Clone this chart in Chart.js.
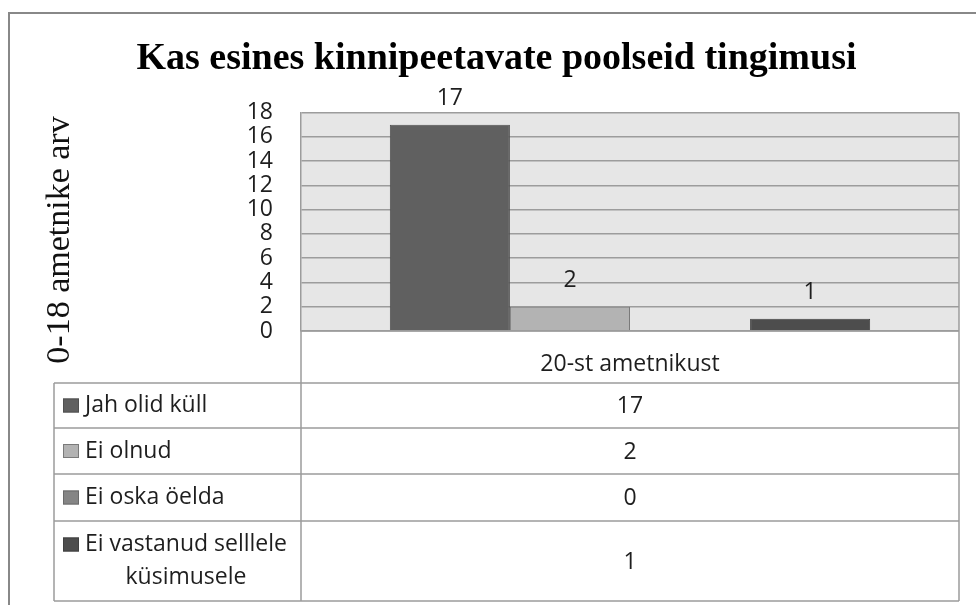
<!DOCTYPE html>
<html>
<head>
<meta charset="utf-8">
<script src="https://cdn.jsdelivr.net/npm/chart.js@4"></script>
<style>
  body { margin: 0; background: #fff; }
  canvas { display: block; }
</style>
</head>
<body>
<canvas id="myChart" width="976" height="605"></canvas>
<script>
const chartTitle = "Kas esines kinnipeetavate poolseid tingimusi";
const yTitle = "0-18 ametnike arv";
const categories = ["20-st ametnikust"];
const seriesNames = ["Jah olid küll", "Ei olnud", "Ei oska öelda", "Ei vastanud selllele küsimusele"];
const seriesValues = [17, 2, 0, 1];
const seriesColors = ["#606060", "#b3b3b3", "#858585", "#4d4d4d"];
const seriesBorders = ["#505050", "#7a7a7a", "#6a6a6a", "#404040"];
const yMin = 0;
const yMax = 18;
const yStep = 2;

const sansFont = "'Open Sans', 'DejaVu Sans', sans-serif";
const serifFont = "'Liberation Serif', 'DejaVu Serif', serif";
const lineColor = "#9c9c9c";

// outer frame + grey plot background
const backgroundPlugin = {
  id: "background",
  beforeDraw: (chart) => {
    const { ctx, chartArea } = chart;
    ctx.save();
    ctx.fillStyle = "#fff";
    ctx.fillRect(0, 0, chart.width, chart.height);
    ctx.strokeStyle = "#888";
    ctx.lineWidth = 2;
    ctx.strokeRect(9, 13, 1200, 1200);
    ctx.fillStyle = "#e6e6e6";
    ctx.fillRect(chartArea.left, chartArea.top, chartArea.right - chartArea.left, chartArea.bottom - chartArea.top);
    ctx.restore();
  },
};

// value labels above the bars
const valueLabelsPlugin = {
  id: "valueLabels",
  afterDatasetsDraw: (chart) => {
    const { ctx } = chart;
    ctx.save();
    ctx.font = `23px ${sansFont}`;
    ctx.fillStyle = "#1e1e1e";
    ctx.textAlign = "center";
    ctx.textBaseline = "middle";
    chart.data.datasets.forEach((ds, i) => {
      const value = ds.data[0];
      if (!value) return;
      const bar = chart.getDatasetMeta(i).data[0];
      ctx.fillText(String(value), bar.x, bar.y - 26);
    });
    ctx.restore();
  },
};

// rotated y axis title
const yTitlePlugin = {
  id: "yTitle",
  afterDraw: (chart) => {
    const { ctx } = chart;
    ctx.save();
    ctx.translate(60, 240);
    ctx.rotate(-Math.PI / 2);
    ctx.font = `34px ${serifFont}`;
    ctx.fillStyle = "#111";
    ctx.textAlign = "center";
    ctx.textBaseline = "middle";
    ctx.fillText(yTitle, 0, 0);
    ctx.restore();
  },
};

// data table with legend keys under the plot
const dataTablePlugin = {
  id: "dataTable",
  afterDraw: (chart) => {
    const { ctx, chartArea } = chart;
    const left = 54;
    const mid = chartArea.left;
    const right = chartArea.right;
    const headerBottom = chart.scales.x.bottom;
    const rows = [headerBottom, 428, 474, 521, 601];

    ctx.save();
    ctx.strokeStyle = lineColor;
    ctx.lineWidth = 1.5;
    ctx.beginPath();
    ctx.moveTo(mid, chartArea.bottom);
    ctx.lineTo(mid, rows[rows.length - 1]);
    ctx.moveTo(right, chartArea.top);
    ctx.lineTo(right, rows[rows.length - 1]);
    ctx.moveTo(left, rows[0]);
    ctx.lineTo(left, rows[rows.length - 1]);
    ctx.moveTo(mid, chartArea.bottom);
    ctx.lineTo(right, chartArea.bottom);
    rows.forEach((y) => {
      ctx.moveTo(left, y);
      ctx.lineTo(right, y);
    });
    ctx.stroke();

    ctx.font = `23px ${sansFont}`;
    ctx.fillStyle = "#1e1e1e";
    ctx.textBaseline = "middle";
    const textX = 85;
    const maxWidth = mid - textX - 6;
    chart.data.datasets.forEach((ds, i) => {
      const top = rows[i];
      const bottom = rows[i + 1];
      const center = (top + bottom) / 2;

      // wrap the series name
      const words = ds.label.split(" ");
      const lines = [];
      let line = "";
      words.forEach((w) => {
        const test = line ? `${line} ${w}` : w;
        if (ctx.measureText(test).width > maxWidth && line) {
          lines.push(line);
          line = w;
        } else {
          line = test;
        }
      });
      lines.push(line);

      const lineH = 33;
      const firstY = center - ((lines.length - 1) * lineH) / 2;
      const firstW = ctx.measureText(lines[0]).width;

      ctx.fillStyle = ds.backgroundColor;
      ctx.fillRect(63, firstY - 7, 16, 14);
      ctx.strokeStyle = ds.borderColor;
      ctx.lineWidth = 1;
      ctx.strokeRect(63.5, firstY - 6.5, 15, 13);

      ctx.fillStyle = "#1e1e1e";
      lines.forEach((l, k) => {
        if (k === 0) {
          ctx.textAlign = "left";
          ctx.fillText(l, textX, firstY);
        } else {
          ctx.textAlign = "center";
          ctx.fillText(l, textX + firstW / 2, firstY + k * lineH);
        }
      });

      ctx.textAlign = "center";
      ctx.fillText(String(ds.data[0]), (mid + right) / 2, center + 1);
    });
    ctx.restore();
  },
};

const datasets = seriesNames.map((name, i) => ({
  label: name,
  data: [seriesValues[i]],
  backgroundColor: seriesColors[i],
  borderColor: seriesBorders[i],
  borderWidth: 1,
  categoryPercentage: 0.73,
  barPercentage: 1,
}));

const chartConfig = {
  type: "bar",
  data: { labels: categories, datasets: datasets },
  options: {
    responsive: false,
    animation: false,
    devicePixelRatio: 1,
    layout: { padding: { left: 34, right: 17, top: 0, bottom: 222 } },
    plugins: {
      legend: { display: false },
      tooltip: { enabled: false },
      title: {
        display: true,
        text: chartTitle,
        color: "#000",
        font: { family: serifFont, size: 38, weight: "bold" },
        padding: { top: 36, bottom: 31 },
      },
    },
    scales: {
      x: {
        grid: { display: false },
        border: { display: false },
        ticks: { font: { family: sansFont, size: 23 }, color: "#1e1e1e", padding: 12 },
        afterFit: (scale) => {
          scale.height = 52;
        },
      },
      y: {
        min: yMin,
        max: yMax,
        ticks: {
          stepSize: yStep,
          autoSkip: false,
          padding: 28,
          font: { family: sansFont, size: 23, lineHeight: 1 },
          color: "#1e1e1e",
        },
        grid: { color: lineColor, lineWidth: 1.5, drawTicks: false },
        border: { color: lineColor, width: 1.5 },
        afterFit: (scale) => {
          scale.width = 301 - 34;
        },
      },
    },
  },
  plugins: [backgroundPlugin, valueLabelsPlugin, yTitlePlugin, dataTablePlugin],
};

const ctx = document.querySelector("canvas#myChart").getContext("2d");
const myChart = new Chart(ctx, chartConfig);
</script>
</body>
</html>
